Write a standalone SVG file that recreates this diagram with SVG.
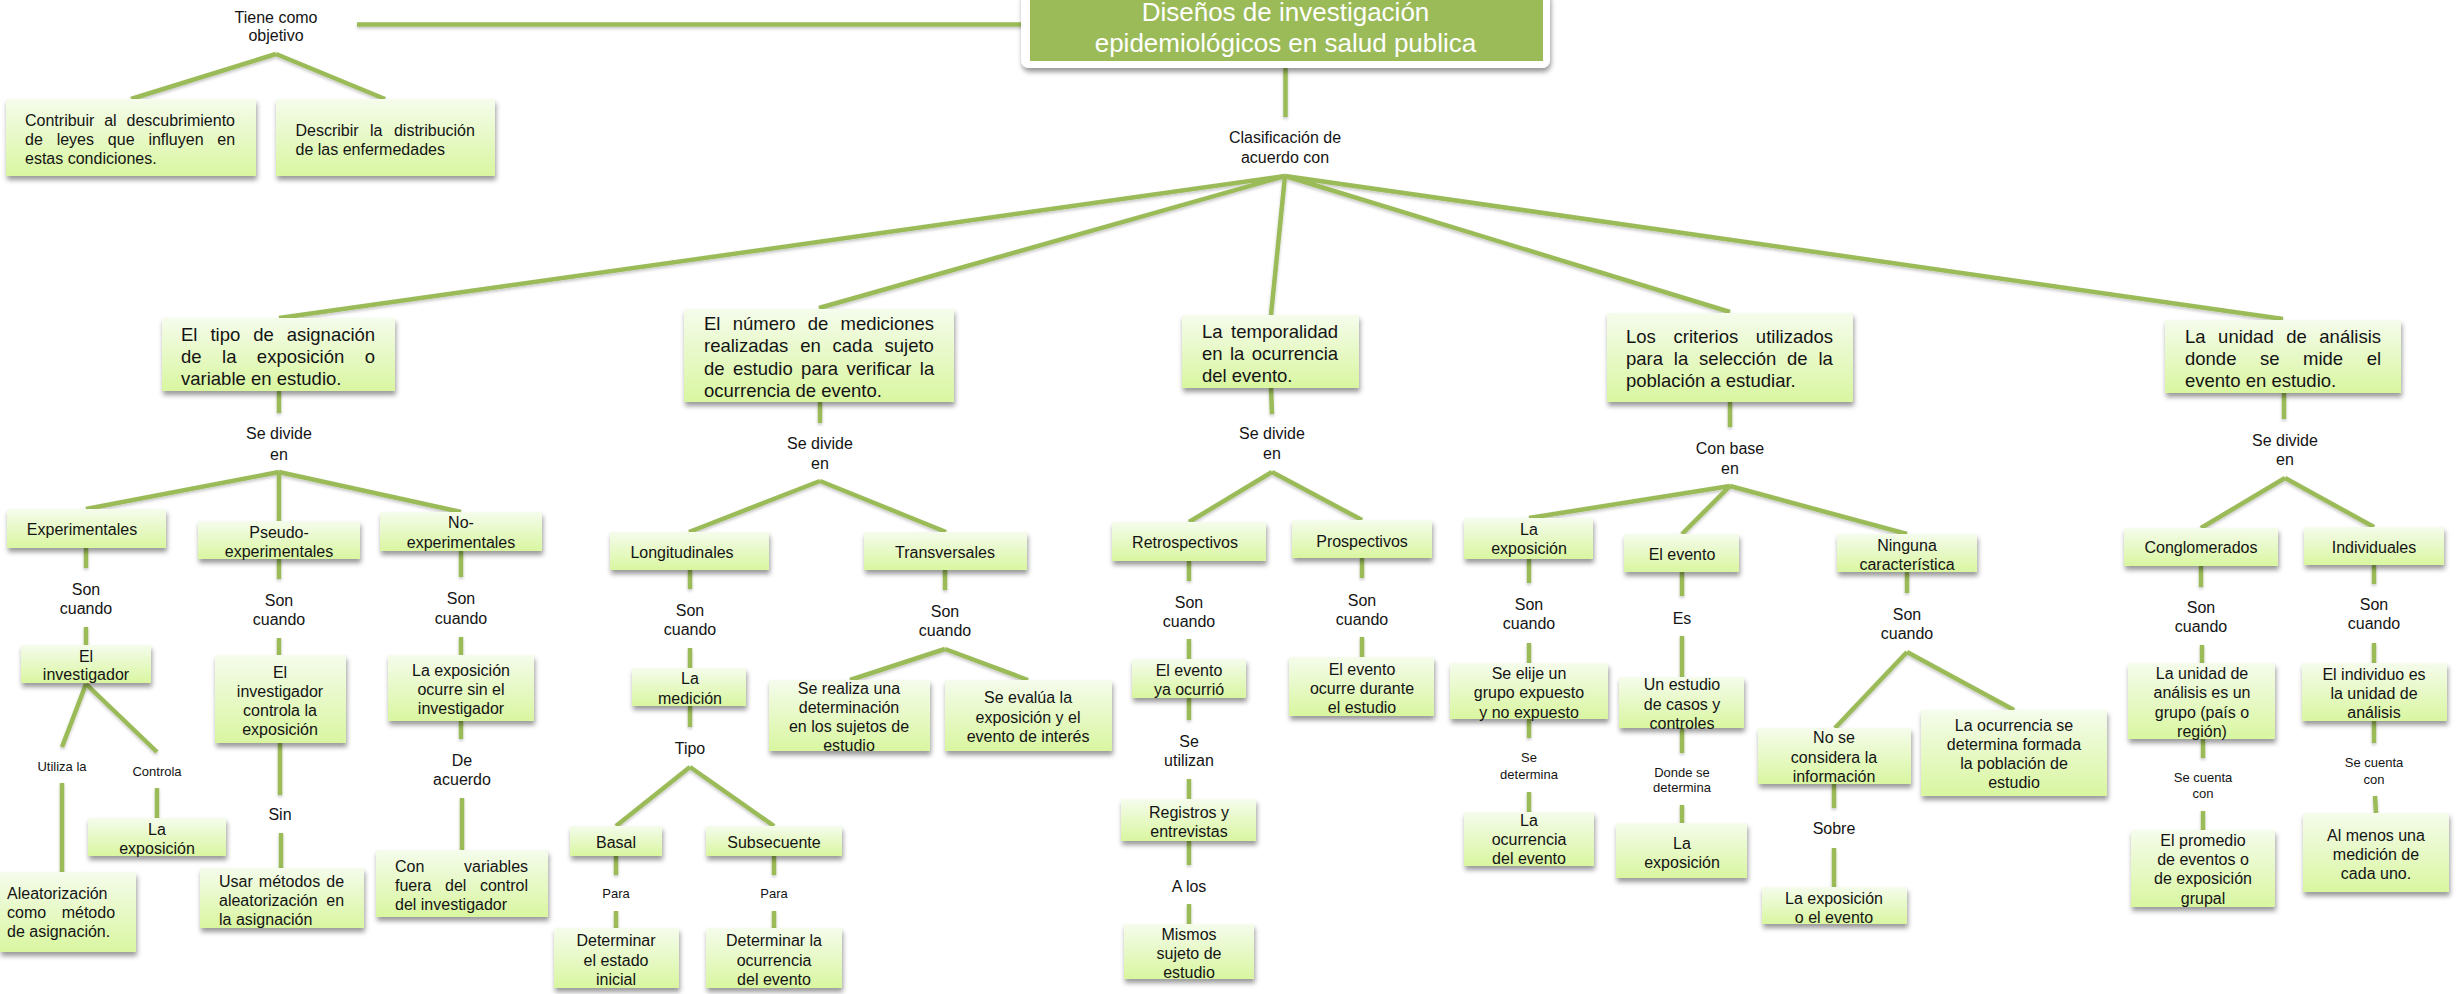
<svg xmlns="http://www.w3.org/2000/svg" width="2458" height="994" viewBox="0 0 2458 994">
<defs>
<linearGradient id="g" x1="0" y1="0" x2="0" y2="1">
<stop offset="0" stop-color="#F5FCEC"/>
<stop offset="1" stop-color="#D9F6A0"/>
</linearGradient>
<filter id="sh" x="-10%" y="-10%" width="120%" height="140%">
<feDropShadow dx="1" dy="4" stdDeviation="2.5" flood-color="#000" flood-opacity="0.4"/>
</filter>
<filter id="lsh" x="-5%" y="-20%" width="110%" height="140%">
<feDropShadow dx="0" dy="2" stdDeviation="1.5" flood-color="#000" flood-opacity="0.22"/>
</filter>
<style>
.ln{stroke:#9BBB59;stroke-width:4.5;fill:none}
.bx{fill:url(#g);filter:url(#sh)}
text{font-family:"Liberation Sans",Arial,sans-serif;font-size:16px;fill:#141414;text-anchor:middle}
.l{text-anchor:start}
.big{font-size:18.5px}
.sm{font-size:13px}
.ti{font-size:26px;fill:#fff}
</style>
</defs>
<rect width="2458" height="994" fill="#fff"/>

<g id="connectors" filter="url(#lsh)">
<path class="ln" d="M357,24.5H1027"/>
<path class="ln" d="M276,54L131,99M276,54L385,99"/>
<path class="ln" d="M1285.5,68V117"/>
<path class="ln" d="M1285,176L279,318M1285,176L819,308M1285,176L1271,315M1285,176L1730,312M1285,176L2283,319"/>
<!-- col1 -->
<path class="ln" d="M279,391V413M279,472L86,509M279,472V521M279,472L461,512"/>
<path class="ln" d="M86,548V568M86,627V645M86,684L62,747M86,684L157,752M157,788V818M62,783V872"/>
<path class="ln" d="M279,559V579M279,638V655M280,743V795M281,833V868"/>
<path class="ln" d="M461,551V577M461,637V655M461,721V739M462,798V850"/>
<!-- col2 -->
<path class="ln" d="M820,402V423M820,481L689,532M820,481L946,532"/>
<path class="ln" d="M690,570V589M690,648V668M690,706V727M690,767L616,826M690,767L774,826"/>
<path class="ln" d="M616,856V875M616,911V928M774,856V875M774,911V928"/>
<path class="ln" d="M945,570V590M945,649L850,680M945,649L1028,680"/>
<!-- col3 -->
<path class="ln" d="M1271,388L1272,414M1272,472L1189,522M1272,472L1362,520"/>
<path class="ln" d="M1189,561V581M1189,639V659M1189,698V720M1189,779V799M1189,841V865M1189,904V924"/>
<path class="ln" d="M1362,558V578M1362,637V657"/>
<!-- col4 -->
<path class="ln" d="M1730,402V427M1730,486L1529,518M1730,486L1682,534M1730,486L1907,534"/>
<path class="ln" d="M1529,559V583M1529,643V663M1529,719V738M1529,792V812"/>
<path class="ln" d="M1682,572V596M1682,636V677M1682,728V753M1682,805V823"/>
<path class="ln" d="M1907,572V593M1907,652L1835,728M1907,652L2014,710M1834,784V808M1834,848V887"/>
<!-- col5 -->
<path class="ln" d="M2284,393V419M2285,478L2201,528M2285,478L2374,527"/>
<path class="ln" d="M2201,566V587M2202,645V663M2203,739V758M2203,811V830"/>
<path class="ln" d="M2374,565V584M2374,643V663M2374,721V743M2375,796L2376,813"/>
</g>

<g id="labels">
<text><tspan x="276" y="22.5">Tiene como</tspan><tspan x="276" y="40.5">objetivo</tspan></text>
<text><tspan x="1285" y="142.5">Clasificación de</tspan><tspan x="1285" y="162.5">acuerdo con</tspan></text>
<text><tspan x="279" y="438.5">Se divide</tspan><tspan x="279" y="459.5">en</tspan></text>
<text><tspan x="86" y="594.5">Son</tspan><tspan x="86" y="613.5">cuando</tspan></text>
<text class="sm" x="62" y="770.5">Utiliza la</text>
<text class="sm" x="157" y="775.5">Controla</text>
<text><tspan x="279" y="605.5">Son</tspan><tspan x="279" y="624.5">cuando</tspan></text>
<text x="280" y="819.5">Sin</text>
<text><tspan x="461" y="603.5">Son</tspan><tspan x="461" y="623.5">cuando</tspan></text>
<text><tspan x="462" y="765.5">De</tspan><tspan x="462" y="784.5">acuerdo</tspan></text>
<text><tspan x="820" y="448.5">Se divide</tspan><tspan x="820" y="468.5">en</tspan></text>
<text><tspan x="690" y="615.5">Son</tspan><tspan x="690" y="634.5">cuando</tspan></text>
<text x="690" y="753.5">Tipo</text>
<text class="sm" x="616" y="897.5">Para</text>
<text class="sm" x="774" y="897.5">Para</text>
<text><tspan x="945" y="616.5">Son</tspan><tspan x="945" y="635.5">cuando</tspan></text>
<text><tspan x="1272" y="438.5">Se divide</tspan><tspan x="1272" y="458.5">en</tspan></text>
<text><tspan x="1189" y="607.5">Son</tspan><tspan x="1189" y="626.5">cuando</tspan></text>
<text><tspan x="1189" y="746.5">Se</tspan><tspan x="1189" y="765.5">utilizan</tspan></text>
<text x="1189" y="891.5">A los</text>
<text><tspan x="1362" y="605.5">Son</tspan><tspan x="1362" y="624.5">cuando</tspan></text>
<text><tspan x="1730" y="453.5">Con base</tspan><tspan x="1730" y="473.5">en</tspan></text>
<text><tspan x="1529" y="609.5">Son</tspan><tspan x="1529" y="628.5">cuando</tspan></text>
<text class="sm"><tspan x="1529" y="761.5">Se</tspan><tspan x="1529" y="778.5">determina</tspan></text>
<text x="1682" y="623.5">Es</text>
<text class="sm"><tspan x="1682" y="776.5">Donde se</tspan><tspan x="1682" y="791.5">determina</tspan></text>
<text><tspan x="1907" y="619.5">Son</tspan><tspan x="1907" y="638.5">cuando</tspan></text>
<text x="1834" y="833.5">Sobre</text>
<text><tspan x="2285" y="445.5">Se divide</tspan><tspan x="2285" y="464.5">en</tspan></text>
<text><tspan x="2201" y="612.5">Son</tspan><tspan x="2201" y="631.5">cuando</tspan></text>
<text class="sm"><tspan x="2203" y="781.5">Se cuenta</tspan><tspan x="2203" y="797.5">con</tspan></text>
<text><tspan x="2374" y="609.5">Son</tspan><tspan x="2374" y="628.5">cuando</tspan></text>
<text class="sm"><tspan x="2374" y="766.5">Se cuenta</tspan><tspan x="2374" y="783.5">con</tspan></text>
</g>

<g id="title">
<rect x="1021" y="-10" width="529" height="78" rx="8" fill="#fff" filter="url(#sh)"/>
<rect x="1030" y="-5" width="513" height="66" fill="#9BBB59"/>
<text class="ti"><tspan x="1285.5" y="21">Diseños de investigación</tspan><tspan x="1285.5" y="52">epidemiológicos en salud publica</tspan></text>
</g>

<g id="obj1">
<rect class="bx" x="6" y="99" width="250" height="77"/>
<text class="l"><tspan x="25" y="125.5" word-spacing="5.4">Contribuir al descubrimiento</tspan><tspan x="25" y="144.5" word-spacing="9.4">de leyes que influyen en</tspan><tspan x="25" y="163.5">estas condiciones.</tspan></text>
</g>
<g id="obj2">
<rect class="bx" x="276" y="99" width="219" height="77"/>
<text class="l"><tspan x="295.5" y="135.5" word-spacing="7">Describir la distribución</tspan><tspan x="295.5" y="154.5">de las enfermedades</tspan></text>
</g>

<!-- column 1 -->
<g id="asignacion">
<rect class="bx" x="162" y="318" width="233" height="73"/>
<text class="l big"><tspan x="181" y="340.5" word-spacing="7.8">El tipo de asignación</tspan><tspan x="181" y="362.5" word-spacing="15.3">de la exposición o</tspan><tspan x="181" y="384.5">variable en estudio.</tspan></text>
</g>
<g id="experimentales">
<rect class="bx" x="7" y="509" width="159" height="39"/>
<text x="82" y="534.5">Experimentales</text>
</g>
<g id="pseudo">
<rect class="bx" x="198" y="521" width="162" height="38"/>
<text><tspan x="279" y="537.5">Pseudo-</tspan><tspan x="279" y="556.5">experimentales</tspan></text>
</g>
<g id="noexp">
<rect class="bx" x="380" y="512" width="162" height="39"/>
<text><tspan x="461" y="527.5">No-</tspan><tspan x="461" y="547.5">experimentales</tspan></text>
</g>
<g id="investigador">
<rect class="bx" x="21" y="645" width="130" height="38"/>
<text><tspan x="86" y="661.5">El</tspan><tspan x="86" y="679.5">investigador</tspan></text>
</g>
<g id="laexposicion1">
<rect class="bx" x="88" y="818" width="138" height="38"/>
<text><tspan x="157" y="834.5">La</tspan><tspan x="157" y="853.5">exposición</tspan></text>
</g>
<g id="aleatorizacion">
<rect class="bx" x="0" y="872" width="136" height="80"/>
<text class="l"><tspan x="7" y="898.5">Aleatorización</tspan><tspan x="7" y="917.5" word-spacing="11.1">como método</tspan><tspan x="7" y="937">de asignación.</tspan></text>
</g>
<g id="controla">
<rect class="bx" x="215" y="655" width="131" height="88"/>
<text><tspan x="280" y="677.5">El</tspan><tspan x="280" y="696.5">investigador</tspan><tspan x="280" y="715.5">controla la</tspan><tspan x="280" y="734.5">exposición</tspan></text>
</g>
<g id="usar">
<rect class="bx" x="200" y="868" width="164" height="60"/>
<text class="l"><tspan x="219" y="886.5" word-spacing="1.6">Usar métodos de</tspan><tspan x="219" y="905.5" word-spacing="4.1">aleatorización en</tspan><tspan x="219" y="924.5">la asignación</tspan></text>
</g>
<g id="ocurresin">
<rect class="bx" x="388" y="655" width="146" height="66"/>
<text><tspan x="461" y="675.5">La exposición</tspan><tspan x="461" y="694.5">ocurre sin el</tspan><tspan x="461" y="713.5">investigador</tspan></text>
</g>
<g id="convariables">
<rect class="bx" x="376" y="850" width="172" height="67"/>
<text class="l"><tspan x="395" y="871.5" word-spacing="35.2">Con variables</tspan><tspan x="395" y="890.5" word-spacing="9.1">fuera del control</tspan><tspan x="395" y="909.5">del investigador</tspan></text>
</g>

<!-- column 2 -->
<g id="mediciones">
<rect class="bx" x="684" y="309" width="270" height="93"/>
<text class="l big"><tspan x="704" y="329.5" word-spacing="7.1">El número de mediciones</tspan><tspan x="704" y="351.5" word-spacing="6.7">realizadas en cada sujeto</tspan><tspan x="704" y="374.5" word-spacing="3.3">de estudio para verificar la</tspan><tspan x="704" y="396.5">ocurrencia de evento.</tspan></text>
</g>
<g id="longitudinales">
<rect class="bx" x="610" y="532" width="159" height="38"/>
<text x="682" y="557.5">Longitudinales</text>
</g>
<g id="transversales">
<rect class="bx" x="864" y="532" width="163" height="38"/>
<text x="945" y="557.5">Transversales</text>
</g>
<g id="lamedicion">
<rect class="bx" x="632" y="668" width="114" height="38"/>
<text><tspan x="690" y="683.5">La</tspan><tspan x="690" y="703.5">medición</tspan></text>
</g>
<g id="basal">
<rect class="bx" x="570" y="826" width="92" height="30"/>
<text x="616" y="847.5">Basal</text>
</g>
<g id="subsecuente">
<rect class="bx" x="706" y="826" width="136" height="30"/>
<text x="774" y="847.5">Subsecuente</text>
</g>
<g id="det1">
<rect class="bx" x="554" y="928" width="125" height="60"/>
<text><tspan x="616" y="945.5">Determinar</tspan><tspan x="616" y="965.5">el estado</tspan><tspan x="616" y="984.5">inicial</tspan></text>
</g>
<g id="det2">
<rect class="bx" x="706" y="928" width="136" height="60"/>
<text><tspan x="774" y="945.5">Determinar la</tspan><tspan x="774" y="965.5">ocurrencia</tspan><tspan x="774" y="984.5">del evento</tspan></text>
</g>
<g id="serealiza">
<rect class="bx" x="769" y="680" width="161" height="71"/>
<text><tspan x="849" y="693.5">Se realiza una</tspan><tspan x="849" y="712.5">determinación</tspan><tspan x="849" y="731.5">en los sujetos de</tspan><tspan x="849" y="750.5">estudio</tspan></text>
</g>
<g id="seevalua">
<rect class="bx" x="945" y="680" width="167" height="71"/>
<text><tspan x="1028" y="702.5">Se evalúa la</tspan><tspan x="1028" y="722.5">exposición y el</tspan><tspan x="1028" y="741.5">evento de interés</tspan></text>
</g>

<!-- column 3 -->
<g id="temporalidad">
<rect class="bx" x="1182" y="315" width="177" height="73"/>
<text class="l big"><tspan x="1202" y="337.5" word-spacing="3.4">La temporalidad</tspan><tspan x="1202" y="359.5" word-spacing="2.2">en la ocurrencia</tspan><tspan x="1202" y="381.5">del evento.</tspan></text>
</g>
<g id="retrospectivos">
<rect class="bx" x="1112" y="522" width="154" height="39"/>
<text x="1185" y="547.5">Retrospectivos</text>
</g>
<g id="prospectivos">
<rect class="bx" x="1292" y="520" width="140" height="38"/>
<text x="1362" y="546.5">Prospectivos</text>
</g>
<g id="yaocurrio">
<rect class="bx" x="1132" y="659" width="114" height="39"/>
<text><tspan x="1189" y="675.5">El evento</tspan><tspan x="1189" y="694.5">ya ocurrió</tspan></text>
</g>
<g id="registros">
<rect class="bx" x="1121" y="799" width="135" height="42"/>
<text><tspan x="1189" y="817.5">Registros y</tspan><tspan x="1189" y="836.5">entrevistas</tspan></text>
</g>
<g id="mismos">
<rect class="bx" x="1124" y="924" width="130" height="55"/>
<text><tspan x="1189" y="939.5">Mismos</tspan><tspan x="1189" y="958.5">sujeto de</tspan><tspan x="1189" y="977.5">estudio</tspan></text>
</g>
<g id="ocurredurante">
<rect class="bx" x="1289" y="657" width="145" height="59"/>
<text><tspan x="1362" y="674.5">El evento</tspan><tspan x="1362" y="693.5">ocurre durante</tspan><tspan x="1362" y="712.5">el estudio</tspan></text>
</g>

<!-- column 4 -->
<g id="criterios">
<rect class="bx" x="1607" y="313" width="246" height="89"/>
<text class="l big"><tspan x="1626" y="342.5" word-spacing="12.5">Los criterios utilizados</tspan><tspan x="1626" y="364.5" word-spacing="5.7">para la selección de la</tspan><tspan x="1626" y="386.5">población a estudiar.</tspan></text>
</g>
<g id="laexposicion2">
<rect class="bx" x="1464" y="518" width="129" height="41"/>
<text><tspan x="1529" y="534.5">La</tspan><tspan x="1529" y="553.5">exposición</tspan></text>
</g>
<g id="elevento">
<rect class="bx" x="1624" y="534" width="115" height="38"/>
<text x="1682" y="559.5">El evento</text>
</g>
<g id="ninguna">
<rect class="bx" x="1837" y="534" width="140" height="38"/>
<text><tspan x="1907" y="550.5">Ninguna</tspan><tspan x="1907" y="569.5">característica</tspan></text>
</g>
<g id="seelije">
<rect class="bx" x="1450" y="663" width="158" height="56"/>
<text><tspan x="1529" y="678.5">Se elije un</tspan><tspan x="1529" y="697.5">grupo expuesto</tspan><tspan x="1529" y="717.5">y no expuesto</tspan></text>
</g>
<g id="laocurrencia">
<rect class="bx" x="1464" y="812" width="130" height="54"/>
<text><tspan x="1529" y="825.5">La</tspan><tspan x="1529" y="844.5">ocurrencia</tspan><tspan x="1529" y="863.5">del evento</tspan></text>
</g>
<g id="casoscontroles">
<rect class="bx" x="1619" y="677" width="125" height="51"/>
<text><tspan x="1682" y="689.5">Un estudio</tspan><tspan x="1682" y="709.5">de casos y</tspan><tspan x="1682" y="728.5">controles</tspan></text>
</g>
<g id="laexposicion3">
<rect class="bx" x="1616" y="823" width="131" height="55"/>
<text><tspan x="1682" y="848.5">La</tspan><tspan x="1682" y="867.5">exposición</tspan></text>
</g>
<g id="noseconsidera">
<rect class="bx" x="1758" y="728" width="153" height="56"/>
<text><tspan x="1834" y="742.5">No se</tspan><tspan x="1834" y="762.5">considera la</tspan><tspan x="1834" y="781.5">información</tspan></text>
</g>
<g id="expoevento">
<rect class="bx" x="1762" y="887" width="145" height="37"/>
<text><tspan x="1834" y="903.5">La exposición</tspan><tspan x="1834" y="922.5">o el evento</tspan></text>
</g>
<g id="ocurrenciaformada">
<rect class="bx" x="1921" y="710" width="186" height="86"/>
<text><tspan x="2014" y="730.5">La ocurrencia se</tspan><tspan x="2014" y="749.5">determina formada</tspan><tspan x="2014" y="768.5">la población de</tspan><tspan x="2014" y="787.5">estudio</tspan></text>
</g>

<!-- column 5 -->
<g id="unidad">
<rect class="bx" x="2165" y="320" width="236" height="73"/>
<text class="l big"><tspan x="2185" y="342.5" word-spacing="7.4">La unidad de análisis</tspan><tspan x="2185" y="364.5" word-spacing="18.4">donde se mide el</tspan><tspan x="2185" y="386.5">evento en estudio.</tspan></text>
</g>
<g id="conglomerados">
<rect class="bx" x="2124" y="528" width="154" height="38"/>
<text x="2201" y="552.5">Conglomerados</text>
</g>
<g id="individuales">
<rect class="bx" x="2304" y="527" width="140" height="38"/>
<text x="2374" y="552.5">Individuales</text>
</g>
<g id="grupo">
<rect class="bx" x="2128" y="663" width="147" height="76"/>
<text><tspan x="2202" y="678.5">La unidad de</tspan><tspan x="2202" y="697.5">análisis es un</tspan><tspan x="2202" y="717.5">grupo (país o</tspan><tspan x="2202" y="736.5">región)</tspan></text>
</g>
<g id="promedio">
<rect class="bx" x="2131" y="830" width="144" height="77"/>
<text><tspan x="2203" y="845.5">El promedio</tspan><tspan x="2203" y="864.5">de eventos o</tspan><tspan x="2203" y="883.5">de exposición</tspan><tspan x="2203" y="903.5">grupal</tspan></text>
</g>
<g id="individuo">
<rect class="bx" x="2302" y="663" width="145" height="58"/>
<text><tspan x="2374" y="679.5">El individuo es</tspan><tspan x="2374" y="698.5">la unidad de</tspan><tspan x="2374" y="717.5">análisis</tspan></text>
</g>
<g id="almenos">
<rect class="bx" x="2303" y="813" width="146" height="79"/>
<text><tspan x="2376" y="840.5">Al menos una</tspan><tspan x="2376" y="859.5">medición de</tspan><tspan x="2376" y="878.5">cada uno.</tspan></text>
</g>
</svg>
